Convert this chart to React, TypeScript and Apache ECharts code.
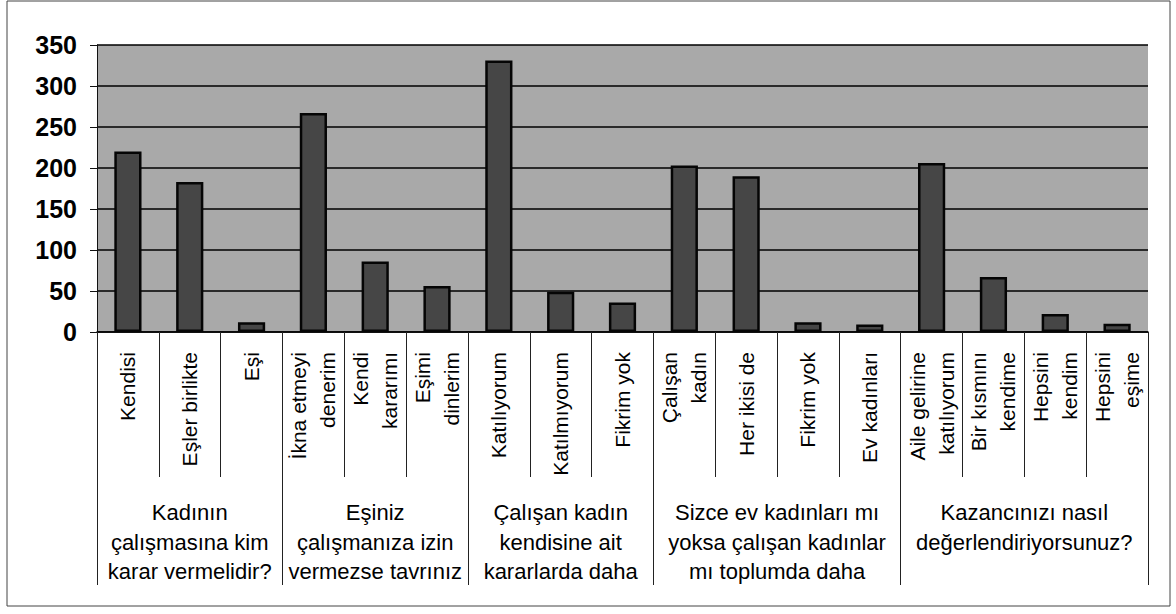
import React, { useEffect, useRef } from "react";
import * as echarts from "echarts";

const subCategories: string[] = [
  "Kendisi",
  "Eşler birlikte",
  "Eşi",
  "İkna etmeyi\ndenerim",
  "Kendi\nkararımı",
  "Eşimi\ndinlerim",
  "Katılıyorum",
  "Katılmıyorum",
  "Fikrim yok",
  "Çalışan\nkadın",
  "Her ikisi de",
  "Fikrim yok",
  "Ev kadınları",
  "Aile gelirine\nkatılıyorum",
  "Bir kısmını\nkendime",
  "Hepsini\nkendim",
  "Hepsini\neşime",
];

const values: number[] = [220, 183, 12, 267, 86, 56, 331, 49, 36, 203, 190, 12, 9, 206, 67, 22, 10];

const groupLabels: string[] = [
  "Kadının\nçalışmasına kim\nkarar vermelidir?",
  "Eşiniz\nçalışmanıza izin\nvermezse tavrınız",
  "Çalışan kadın\nkendisine ait\nkararlarda daha",
  "Sizce ev kadınları mı\nyoksa çalışan kadınlar\nmı toplumda daha",
  "Kazancınızı nasıl\ndeğerlendiriyorsunuz?",
];
const groupSizes: number[] = [3, 3, 3, 4, 4];

const yTicks: number[] = [0, 50, 100, 150, 200, 250, 300, 350];

const FONT = "'Liberation Sans', Arial, sans-serif";

export default function App() {
  const ref = useRef<HTMLDivElement>(null);

  useEffect(() => {
    if (!ref.current) return;
    const chart = echarts.init(ref.current, undefined, { renderer: "svg" });

    const bounds: number[] = [0];
    groupSizes.forEach((s) => bounds.push(bounds[bounds.length - 1] + s));
    const centers: number[] = groupSizes.map((s, i) => bounds[i] + s / 2);
    const total = bounds[bounds.length - 1];

    chart.setOption({
      animation: false,
      backgroundColor: "#ffffff",
      grid: {
        left: 97,
        right: 28,
        top: 45,
        bottom: 282,
        show: true,
        backgroundColor: "#a9a9a9",
        borderWidth: 0,
      },
      xAxis: [
        {
          type: "category",
          data: subCategories,
          position: "bottom",
          axisLine: { show: true, onZero: false, lineStyle: { color: "#000", width: 1.5 } },
          axisTick: { show: true, length: 145, lineStyle: { color: "#222", width: 1 } },
          axisLabel: {
            interval: 0,
            rotate: 90,
            margin: 20,
            fontSize: 21,
            lineHeight: 29,
            color: "#000",
            fontFamily: FONT,
          },
          splitLine: { show: false },
        },
        {
          type: "value",
          min: 0,
          max: total,
          position: "bottom",
          offset: 0,
          axisLine: { show: false },
          splitLine: { show: false },
          axisTick: {
            show: true,
            customValues: bounds,
            length: 253,
            lineStyle: { color: "#222", width: 1 },
          },
          axisLabel: {
            show: true,
            customValues: centers,
            margin: 166,
            fontSize: 22,
            lineHeight: 29.5,
            color: "#000",
            fontFamily: FONT,
            verticalAlign: "top",
            formatter: (v: number) => {
              const idx = centers.findIndex((c) => Math.abs(c - v) < 1e-6);
              return idx >= 0 ? groupLabels[idx] : "";
            },
          },
        },
      ],
      yAxis: {
        type: "value",
        min: yTicks[0],
        max: yTicks[yTicks.length - 1],
        interval: 50,
        axisLine: { show: true, lineStyle: { color: "#111", width: 1 } },
        axisTick: { show: true, length: 7, lineStyle: { color: "#111" } },
        axisLabel: {
          fontSize: 25,
          fontWeight: "bold",
          color: "#000",
          margin: 20,
          fontFamily: FONT,
        },
        splitLine: { show: true, lineStyle: { color: "#000", width: 1.5 } },
      },
      series: [
        {
          type: "bar",
          xAxisIndex: 0,
          data: values,
          barWidth: "44%",
          itemStyle: {
            color: "#464646",
            borderColor: "#050505",
            borderWidth: 2.5,
          },
        },
      ],
      graphic: [
        {
          type: "rect",
          shape: { x: 7, y: 1, width: 1163, height: 605 },
          style: { fill: "none", stroke: "#444", lineWidth: 1 },
          silent: true,
          z: 100,
        },
      ],
    });

    return () => {
      chart.dispose();
    };
  }, []);

  return (
    <div
      ref={ref}
      style={{ position: "absolute", left: 0, top: 0, width: 1176, height: 614 }}
    />
  );
}
